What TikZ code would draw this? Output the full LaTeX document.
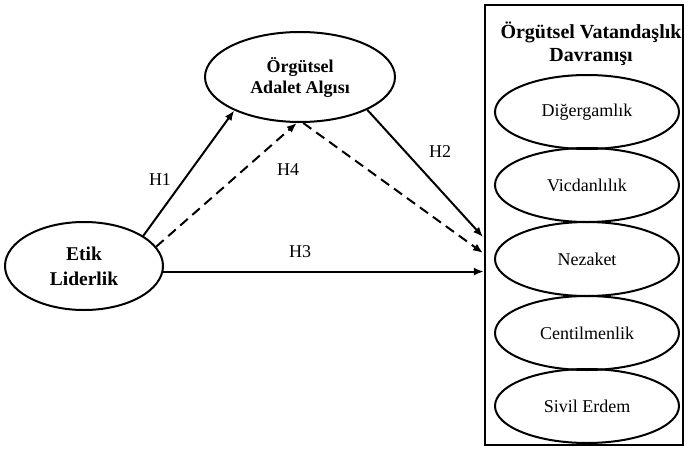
\documentclass[tikz,border=0pt]{standalone}
\usepackage{fontspec}
\setmainfont{Liberation Serif}
\usetikzlibrary{shapes.geometric,arrows.meta,calc}
\begin{document}
\begin{tikzpicture}[x=1pt,y=-1pt,
  oval/.style={ellipse,draw,line width=2pt,inner sep=0pt,align=center},
  bigoval/.style={oval,font=\fontsize{18}{21}\selectfont\bfseries},
  suboval/.style={oval,minimum width=184pt,minimum height=74pt,font=\fontsize{18}{21}\selectfont},
  conn/.style={line width=2pt,-{Latex[length=10pt,width=8pt]}},
  dconn/.style={conn,dash pattern=on 10pt off 6pt},
  lbl/.style={font=\fontsize{18}{21}\selectfont}]
\useasboundingbox (0,0) rectangle (685,450);
\node[draw,line width=2.4pt,minimum width=198pt,minimum height=440pt,inner sep=0pt] (box) at (584,225) {};
\node[font=\fontsize{20}{23}\selectfont\bfseries,align=center] (title) at (591,44) {Örgütsel Vatandaşlık\\Davranışı};
\node[bigoval,minimum width=158pt,minimum height=88pt,font=\fontsize{19.5}{23}\selectfont\bfseries] (etik) at (84,266) {Etik\\[2pt]Liderlik};
\node[bigoval,minimum width=190pt,minimum height=90pt] (adalet) at (300,77) {Örgütsel\\Adalet Algısı};
\node[suboval] (s1) at (587,112) {Diğergamlık};
\node[suboval] (s2) at (587,185) {Vicdanlılık};
\node[suboval] (s3) at (587,259) {Nezaket};
\node[suboval] (s4) at (587,333) {Centilmenlik};
\node[suboval] (s5) at (587,406) {Sivil Erdem};
\coordinate (e2) at (483,237);
\coordinate (e4) at (483,253);
\draw[conn] (etik.27) -- (adalet.207);
\draw[dconn] (etik.15) -- (adalet.266);
\draw[dconn] (adalet.274) -- (e4);
\draw[conn] (adalet.334) -- (e2);
\draw[conn] (etik.-4) -- (etik.-4 -| box.west);
\node[lbl] (h1) at (160,180) {H1};
\node[lbl] (h4) at (288,170) {H4};
\node[lbl] (h2) at (440,152) {H2};
\node[lbl] (h3) at (300,252) {H3};
\end{tikzpicture}
\end{document}
